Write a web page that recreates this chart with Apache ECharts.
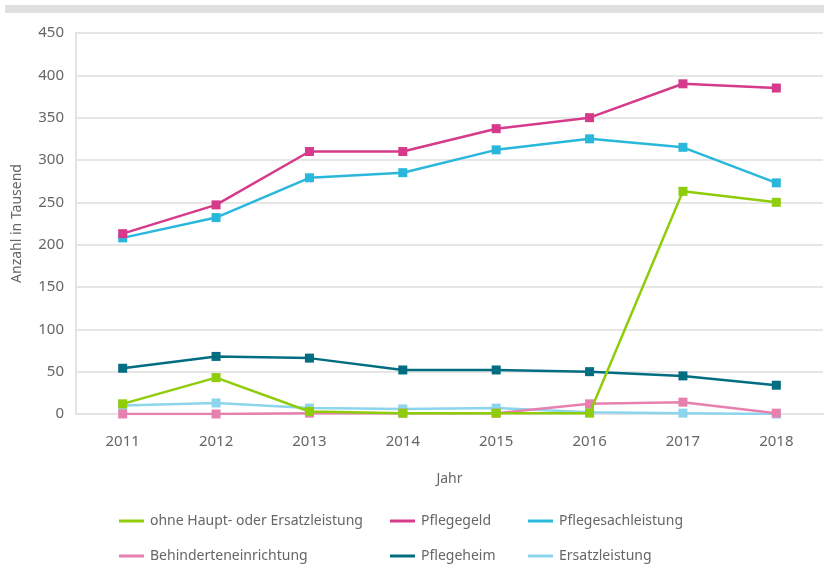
<!DOCTYPE html>
<html>
<head>
<meta charset="utf-8">
<script src="https://cdn.jsdelivr.net/npm/echarts@6/dist/echarts.min.js"></script>
<style>
  html, body { margin: 0; padding: 0; background: #fff; }
  #chart { width: 824px; height: 578px; }
</style>
</head>
<body>
<div id="chart"></div>
<script>
const years = ["2011", "2012", "2013", "2014", "2015", "2016", "2017", "2018"];
const ohneLeistung = [12, 43, 3, 1, 1, 1, 263, 250];
const pflegegeld = [213, 247, 310, 310, 337, 350, 390, 385];
const pflegesachleistung = [208, 232, 279, 285, 312, 325, 315, 273];
const behinderteneinrichtung = [0, 0, 1, 1, 1, 12, 14, 1];
const pflegeheim = [54, 68, 66, 52, 52, 50, 45, 34];
const ersatzleistung = [10, 13, 7, 6, 7, 2, 1, 0];

const font = "Noto Sans";
const textColor = "#666";

const mkSeries = (name, data, color, z) => ({
	name,
	type: "line",
	data,
	z,
	symbol: "rect",
	symbolSize: 9,
	showSymbol: true,
	lineStyle: { width: 2.5, color },
	itemStyle: { color },
	emphasis: { disabled: true }
});

const legendBase = {
	orient: "vertical",
	top: 514,
	padding: 0,
	itemGap: 21,
	icon: "rect",
	itemWidth: 25,
	itemHeight: 3,
	textStyle: { fontFamily: font, fontSize: 14, color: textColor, padding: [0, 0, 0, 1] },
	selectedMode: false
};

const chart = echarts.init(document.getElementById("chart"));
chart.setOption({
	animation: false,
	graphic: [{
		type: "rect",
		shape: { x: 5, y: 5, width: 819, height: 8 },
		style: { fill: "#e0e0e0" }
	}],
	grid: { left: 76, right: 1, top: 33, bottom: 164 },
	legend: [
		Object.assign({}, legendBase, { left: 119, data: ["ohne Haupt- oder Ersatzleistung", "Behinderteneinrichtung"] }),
		Object.assign({}, legendBase, { left: 390, data: ["Pflegegeld", "Pflegeheim"] }),
		Object.assign({}, legendBase, { left: 528, data: ["Pflegesachleistung", "Ersatzleistung"] })
	],
	xAxis: {
		type: "category",
		data: years,
		boundaryGap: true,
		name: "Jahr",
		nameLocation: "middle",
		nameGap: 58,
		nameTextStyle: { fontFamily: font, fontSize: 14, color: textColor },
		axisLine: { lineStyle: { color: "#e3e3e3", width: 2 } },
		axisTick: { show: false },
		axisLabel: { fontFamily: font, fontSize: 15, color: textColor, margin: 20 }
	},
	yAxis: {
		type: "value",
		min: 0,
		max: 450,
		interval: 50,
		name: "Anzahl in Tausend",
		nameLocation: "middle",
		nameGap: 52,
		nameTextStyle: { fontFamily: font, fontSize: 14, color: textColor },
		axisLine: { show: true, lineStyle: { color: "#e3e3e3", width: 2 } },
		axisTick: { show: false },
		splitLine: { lineStyle: { color: "#e6e6e6", width: 2 } },
		axisLabel: { fontFamily: font, fontSize: 15, color: textColor, margin: 12 }
	},
	series: [
		mkSeries("Ersatzleistung", ersatzleistung, "#8dd5ec", 2),
		mkSeries("Behinderteneinrichtung", behinderteneinrichtung, "#e681af", 3),
		mkSeries("Pflegeheim", pflegeheim, "#006e80", 4),
		mkSeries("Pflegesachleistung", pflegesachleistung, "#29b8dc", 5),
		mkSeries("Pflegegeld", pflegegeld, "#d63a8b", 6),
		mkSeries("ohne Haupt- oder Ersatzleistung", ohneLeistung, "#8fcc0a", 7)
	]
});
</script>
</body>
</html>
